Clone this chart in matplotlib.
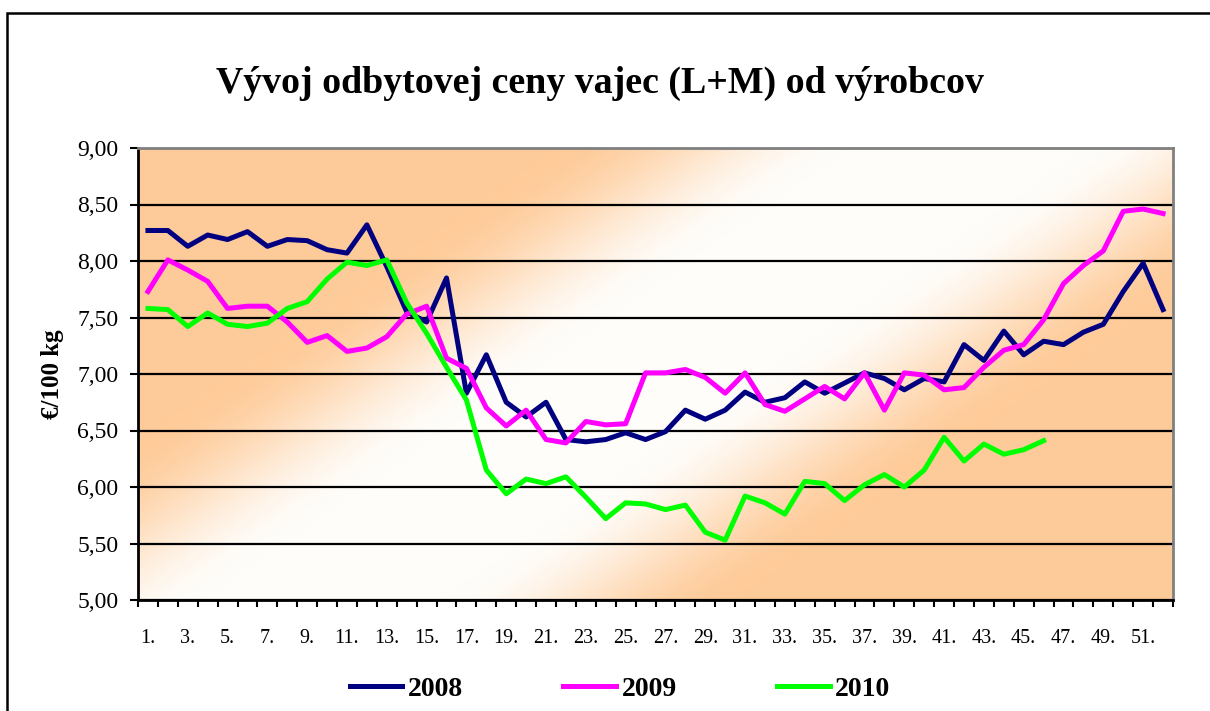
import numpy as np
import matplotlib.pyplot as plt
from matplotlib.patches import Rectangle

plt.rcParams['font.family'] = ['Liberation Serif', 'DejaVu Serif']

weeks = np.arange(1, 53)
w2008 = [8.27, 8.27, 8.13, 8.23, 8.19, 8.26, 8.13, 8.19, 8.18, 8.10,
         8.07, 8.32, 7.95, 7.55, 7.46, 7.85, 6.83, 7.17, 6.75, 6.62,
         6.75, 6.42, 6.40, 6.42, 6.48, 6.42, 6.49, 6.68, 6.60, 6.68,
         6.84, 6.75, 6.79, 6.93, 6.83, 6.92, 7.01, 6.96, 6.86, 6.96,
         6.93, 7.26, 7.12, 7.38, 7.17, 7.29, 7.26, 7.37, 7.44, 7.73, 7.98, 7.57]
w2009 = [7.73, 8.01, 7.92, 7.82, 7.58, 7.60, 7.60, 7.46, 7.28, 7.34,
         7.20, 7.23, 7.33, 7.53, 7.60, 7.14, 7.05, 6.70, 6.54, 6.68,
         6.42, 6.39, 6.58, 6.55, 6.56, 7.01, 7.01, 7.04, 6.97, 6.83,
         7.01, 6.73, 6.67, 6.78, 6.89, 6.78, 7.01, 6.68, 7.01, 6.99,
         6.86, 6.88, 7.06, 7.21, 7.26, 7.48, 7.80, 7.96, 8.09, 8.44, 8.46, 8.42]
w2010 = [7.58, 7.57, 7.42, 7.54, 7.44, 7.42, 7.45, 7.58, 7.64, 7.84,
         7.99, 7.96, 8.01, 7.63, 7.36, 7.06, 6.77, 6.15, 5.94, 6.07,
         6.03, 6.09, 5.91, 5.72, 5.86, 5.85, 5.80, 5.84, 5.60, 5.53,
         5.92, 5.86, 5.76, 6.05, 6.03, 5.88, 6.02, 6.11, 6.00, 6.15,
         6.44, 6.23, 6.38, 6.29, 6.33, 6.41]
series = [('2008', w2008, '#000080'), ('2009', w2009, '#FF00FF'), ('2010', w2010, '#00FF00')]
yticks = [5.0, 5.5, 6.0, 6.5, 7.0, 7.5, 8.0, 8.5, 9.0]

fig = plt.figure(figsize=(12.1, 7.11), dpi=100)
ax = fig.add_axes([138/1210, 111/711, 1035/1210, 452/711])

# diagonal orange-white-orange background
px, py = np.meshgrid(np.arange(138, 1173), np.arange(148, 600))
d = np.abs(px + 1.435*py - 1181)
t = np.clip((d - 120) / 290, 0, 1)
t = t*t*(3 - 2*t)
orange = np.array([254, 203, 153]) / 255
white = np.array([255, 253, 250]) / 255
img = white*(1 - t[..., None]) + orange*t[..., None]
ax.imshow(img, extent=[0.5, 52.5, 5, 9], aspect='auto', origin='upper', zorder=0)

for name, vals, col in series:
    ax.plot(weeks[:len(vals)], vals, color=col, lw=3.6, label=name, zorder=3)

ax.set_xlim(0.5, 52.5)
ax.set_ylim(5, 9)
ax.set_yticks(yticks)
ax.set_yticklabels([f'{v:.2f}'.replace('.', ',') for v in yticks], fontsize=17)
ax.yaxis.grid(True, color='black', lw=1.6)
ax.set_axisbelow(True)
ax.set_xticks(np.arange(0.5, 53, 1))
ax.set_xticklabels([])
ax.set_xticks(weeks[::2], minor=True)
ax.set_xticklabels([f'{w}.' for w in weeks[::2]], minor=True, fontsize=14.5)
ax.tick_params(axis='x', which='major', length=5, width=1.5, direction='out')
ax.tick_params(axis='x', which='minor', length=0, pad=21)
ax.tick_params(axis='y', length=6, width=1.5, pad=8)
for s in ['left', 'bottom']:
    ax.spines[s].set_linewidth(2)
    ax.spines[s].set_color('black')
for s in ['top', 'right']:
    ax.spines[s].set_linewidth(2)
    ax.spines[s].set_color('#808080')

ax.set_ylabel('€/100 kg', fontsize=18, fontweight='bold', labelpad=10)
fig.text(0.496, 1 - 83/711, 'Vývoj odbytovej ceny vajec (L+M) od výrobcov',
         ha='center', va='center', fontsize=27.3, fontweight='bold')

fig.legend(loc='center', bbox_to_anchor=(620/1210, 22/711), ncol=3, frameon=False,
           prop={'weight': 'bold', 'size': 20}, handlelength=1.9,
           handletextpad=0.2, columnspacing=3.6)

fig.add_artist(Rectangle((7/1210, -0.1), 1.2, 1.1 - 13/711, transform=fig.transFigure,
                         fill=False, lw=1.8, ec='black', clip_on=False))

fig.savefig('out.png', dpi=100)
